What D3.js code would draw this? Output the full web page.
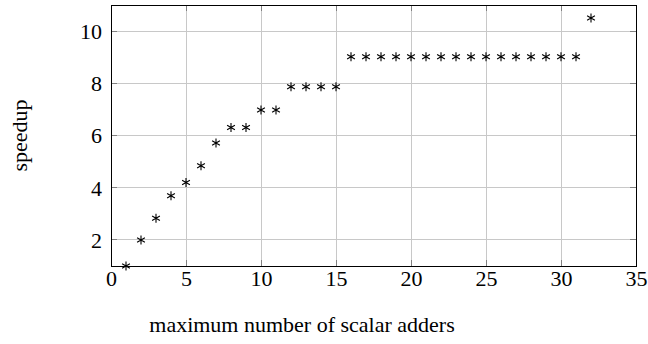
<!DOCTYPE html>
<html><head><meta charset="utf-8">
<script src="https://cdn.jsdelivr.net/npm/d3@7"></script>
<style>body{margin:0;background:#fff}svg{display:block}</style>
</head><body><svg id="c" width="648" height="344"></svg>
<script>
const xValues = [1,2,3,4,5,6,7,8,9,10,11,12,13,14,15,16,17,18,19,20,21,22,23,24,25,26,27,28,29,30,31,32];
const speedup = [1.0,2.0,2.83,3.69,4.2,4.84,5.71,6.31,6.31,6.98,6.98,7.87,7.87,7.87,7.87,9.02,9.02,9.02,9.02,9.02,9.02,9.02,9.02,9.02,9.02,9.02,9.02,9.02,9.02,9.02,9.02,10.5];
const xTicks = [0,5,10,15,20,25,30,35];
const yTicks = [2,4,6,8,10];
const xLabel = "maximum number of scalar adders";
const yLabel = "speedup";

const svg = d3.select("#c");
const L = 111, R = 636, T = 5, B = 266;
const x = d3.scaleLinear().domain([0,35]).range([L,R]);
const y = d3.scaleLinear().domain([1,11]).range([B,T]);
const font = "Liberation Serif";
const fs = 22;

// grid
svg.append("g").selectAll("line").data(xTicks.slice(1,-1)).join("line")
  .attr("x1",d=>x(d)).attr("x2",d=>x(d)).attr("y1",T).attr("y2",B)
  .attr("stroke","#c8c8c8").attr("stroke-width",1).attr("shape-rendering","crispEdges");
svg.append("g").selectAll("line").data(yTicks).join("line")
  .attr("x1",L).attr("x2",R).attr("y1",d=>y(d)).attr("y2",d=>y(d))
  .attr("stroke","#c8c8c8").attr("stroke-width",1).attr("shape-rendering","crispEdges");

// axes (labels only; ticks drawn inside)
const ax = d3.axisBottom(x).tickValues(xTicks).tickSize(0).tickPadding(4);
const gx = svg.append("g").attr("transform",`translate(0,${B})`).call(ax);
gx.select(".domain").remove();
gx.selectAll("text").attr("font-family",font).attr("font-size",fs).attr("fill","#000").attr("dy","0.71em");
const ay = d3.axisLeft(y).tickValues(yTicks).tickSize(0).tickPadding(9);
const gy = svg.append("g").attr("transform",`translate(${L},0)`).call(ay);
gy.select(".domain").remove();
gy.selectAll("text").attr("font-family",font).attr("font-size",fs).attr("fill","#000").attr("dy","0.34em");

// tick marks (inside) on all sides
const tk = svg.append("g").attr("stroke","#808080").attr("stroke-width",1).attr("shape-rendering","crispEdges");
xTicks.forEach(d=>{
  tk.append("line").attr("x1",x(d)).attr("x2",x(d)).attr("y1",B).attr("y2",B-6);
  tk.append("line").attr("x1",x(d)).attr("x2",x(d)).attr("y1",T).attr("y2",T+6);
});
yTicks.forEach(d=>{
  tk.append("line").attr("x1",L).attr("x2",L+6).attr("y1",y(d)).attr("y2",y(d));
  tk.append("line").attr("x1",R).attr("x2",R-6).attr("y1",y(d)).attr("y2",y(d));
});

// frame
svg.append("rect").attr("x",L).attr("y",T).attr("width",R-L).attr("height",B-T)
  .attr("fill","none").attr("stroke","#000").attr("stroke-width",1).attr("shape-rendering","crispEdges");

// asterisk markers
const r = 4.5;
const pts = xValues.map((v,i)=>[v,speedup[i]]);
const mk = svg.append("g").attr("stroke","#000").attr("stroke-width",1.1).attr("fill","none");
mk.selectAll("path").data(pts).join("path")
  .attr("d",d=>{
    const cx=x(d[0]), cy=y(d[1]);
    let p="";
    [90,30,150].forEach(a=>{
      const dx=r*Math.cos(a*Math.PI/180), dy=r*Math.sin(a*Math.PI/180);
      p+=`M${cx-dx},${cy-dy}L${cx+dx},${cy+dy}`;
    });
    return p;
  });

// labels
svg.append("text").attr("x",302).attr("y",332).attr("text-anchor","middle")
  .attr("font-family",font).attr("font-size",fs).text(xLabel);
svg.append("text").attr("transform",`translate(27,${(T+B)/2}) rotate(-90)`).attr("text-anchor","middle")
  .attr("font-family",font).attr("font-size",fs).text(yLabel);
</script></body></html>
